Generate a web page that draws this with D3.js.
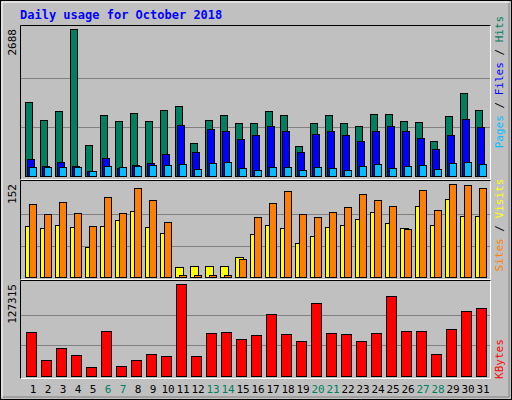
<!DOCTYPE html>
<html><head><meta charset="utf-8">
<script src="https://cdn.jsdelivr.net/npm/d3@7"></script>
<style>body{margin:0;background:#fff}text{font-family:"DejaVu Sans Mono",monospace}</style>
</head><body><div id="chart"></div>
<script>
const days = d3.range(1, 32);
const weekends = [6, 7, 13, 14, 20, 21, 27, 28];
const hits = [1356,1028,1192,2688,572,1119,1009,1155,1009,1210,1283,608,1028,1119,973,973,1192,1119,553,973,1119,973,918,1137,1137,1009,991,645,1101,1520,1210];
const files = [316,189,261,189,97,334,152,207,243,407,936,444,863,827,681,754,918,827,444,772,827,754,645,827,918,827,699,499,754,1046,900];
const pages = [170,170,170,170,97,189,170,189,207,207,225,134,243,261,152,116,170,170,116,170,152,116,189,225,152,189,207,134,243,261,225];
const visits = [119,103,122,104,83,131,104,145,126,89,2,2,2,2,29,98,121,141,103,98,106,114,136,126,116,78,142,109,152,150,145];
const sites = [83,80,85,81,48,83,93,108,81,71,15,17,17,17,32,70,85,80,55,66,81,85,94,106,88,80,116,85,127,99,99];
const kbytes = [60411,21376,38105,28347,11618,61805,13012,21376,29741,26953,127315,26953,59017,60411,50652,56229,85505,57623,47864,100840,59017,57623,47864,59017,110599,61805,61805,29741,64593,89687,93869];

const W = 512, H = 400;
const svg = d3.select("#chart").append("svg").attr("width", W).attr("height", H);
svg.append("rect").attr("x", 0.5).attr("y", 0.5).attr("width", W - 1).attr("height", H - 1)
    .attr("fill", "#c0c0c0").attr("stroke", "#000");
// outer bevel
svg.append("path").attr("d", "M2,397V2H509").attr("stroke", "#fff").attr("fill", "none");
svg.append("path").attr("d", "M3,397H509V3").attr("stroke", "#808080").attr("fill", "none");

svg.append("text").attr("x", 20).attr("y", 19).attr("fill", "#0000ff")
    .style("font-size", "12px").style("font-weight", "bold").text("Daily usage for October 2018");

const x = d3.scaleBand().domain(days).range([25, 490]).padding(0);

// panel frames
const panels = [[25, 180], [180, 280], [280, 379]];
panels.forEach(([t, b]) => {
    svg.append("path").attr("d", `M20.5,${b}V${t + 0.5}H491`).attr("stroke", "#000").attr("fill", "none");
    svg.append("path").attr("d", `M20.5,${b - 0.5}H490.5V${t + 0.5}`).attr("stroke", "#fff").attr("fill", "none");
});

function grid(y, vals) {
    vals.forEach(v => svg.append("line").attr("x1", 21).attr("x2", 490)
        .attr("y1", Math.round(y(v)) + 0.5).attr("y2", Math.round(y(v)) + 0.5).attr("stroke", "#808080"));
}
function bars(data, y, dx, w, color) {
    svg.append("g").selectAll("rect").data(data).join("rect")
        .attr("x", (d, i) => Math.round(x(days[i])) + dx + 0.5)
        .attr("y", d => Math.round(y(d)) + 0.5)
        .attr("width", w).attr("height", d => Math.max(1, Math.round(y(0)) - Math.round(y(d))))
        .attr("fill", color).attr("stroke", "#000");
}
function leftLabel(txt, yTop) {
    svg.append("text").attr("transform", `translate(16,${yTop}) rotate(-90)`)
        .attr("text-anchor", "end").style("font-size", "11px").attr("fill", "#000").text(txt);
}
function rightLabel(parts, yc) {
    const t = svg.append("text").attr("transform", `translate(503,${yc}) rotate(-90)`)
        .attr("text-anchor", "middle").style("font-size", "11px");
    parts.forEach(([s, c]) => t.append("tspan").attr("fill", c).text(s));
}

// top: hits / files / pages
const y1 = d3.scaleLinear().domain([0, 2688]).range([176, 29]);
grid(y1, [2688 / 3, 2688 * 2 / 3]);
bars(hits, y1, 0, 7, "#008060");
bars(files, y1, 2, 7, "#0000ff");
bars(pages, y1, 4, 7, "#00c0ff");
leftLabel("2688", 29);
rightLabel([["Pages", "#00c0ff"], [" / ", "#000"], ["Files", "#0000ff"], [" / ", "#000"], ["Hits", "#008060"]], 82);

// middle: visits / sites
const y2 = d3.scaleLinear().domain([0, 152]).range([276.5, 184]);
grid(y2, [152 / 3, 152 * 2 / 3 + 2]);
bars(sites, y2, 0, 8, "#ffff00");
bars(visits, y2, 4, 7, "#ff8000");
leftLabel("152", 184);
rightLabel([["Sites", "#ff8000"], [" / ", "#000"], ["Visits", "#ffff00"]], 225);

// bottom: kbytes
const y3 = d3.scaleLinear().domain([0, 127315]).range([375.7, 284]);
grid(y3, [127315 / 3, 127315 * 2 / 3]);
bars(kbytes, y3, 1, 10, "#ff0000");
leftLabel("127315", 284);
rightLabel([["KBytes", "#ff0000"]], 359);

// day labels
svg.append("g").selectAll("text").data(days).join("text")
    .attr("x", d => x(d) + 8).attr("y", 393).attr("text-anchor", "middle")
    .style("font-size", "11px")
    .attr("fill", d => weekends.includes(d) ? "#008060" : "#000").text(d => d);
</script></body></html>
